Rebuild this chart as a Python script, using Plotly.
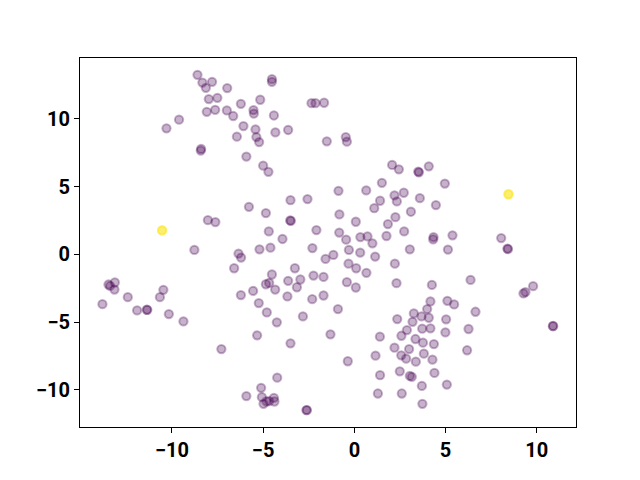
import plotly.graph_objects as go

# point coordinates
xs = [
    -8.60, -8.33, -7.80, -8.14, -6.97, -7.98, -7.51, -6.22, -8.09, -7.63,
    -6.99, -6.64, -9.61, -10.30, -6.08, -6.44, -8.40, -8.42, -5.92, -5.78,
    -8.03, -7.62,
    -4.52, -4.52, -5.16, -5.53, -5.51, -4.41, -2.35, -2.13, -1.66, -5.42,
    -5.37, -5.22, -4.33, -3.63, -1.51, -0.47, -0.41, -5.00, -4.71, 2.07,
    2.44, 3.54, 3.50, 4.08, 1.51, -0.87, 0.65, 2.20, 2.33, 2.71,
    1.41, 1.09, 3.10, -3.50, -2.57, -4.85, -0.82, -3.52, -3.48, 0.08,
    2.25, 1.84, 2.73, -4.69, -2.08, -0.83, -3.94, -0.45, 0.33, 0.72,
    1.76, 0.99,
    4.96, 3.59, 4.47, 4.34, 4.32, 5.38, 8.05, 8.39, 8.42,
    -8.77, -6.35, -6.21, -6.59, -6.22, -13.48, -13.39, -13.13, -13.15, -13.81,
    -12.42, -11.91, -11.38, -11.35, -10.47, -10.66, -10.17, -9.37, -7.29, -5.92,
    -5.20, -4.60, -2.30, -0.30, 0.32, 1.14, 3.04, -1.58, -1.15, -3.26,
    -4.52, -4.85, -4.67, -4.34, -3.63, -2.96, -3.15, -2.24, -1.69, -0.32,
    0.10, 0.66, -0.41, 0.08, 2.22, 2.31, -5.55, -5.24, -3.67, -2.31,
    -1.69, -4.80, -4.25, -2.82, -0.90, -5.33, -3.50, -1.31, -0.36, -4.23,
    -5.11, -5.07, -4.98, -4.82, -4.67, -4.41, -4.38, -2.63, -2.60, 1.40,
    1.16, 1.41, 1.29, 2.60, 2.49, 3.04, 3.15, 2.20, 2.57, 2.84,
    3.00, 2.58, 2.88, 2.35,
    5.13, 4.25, 6.37, 9.27, 9.38, 9.80, 10.90, 10.88, 4.17, 3.99,
    5.10, 5.47, 6.64, 3.26, 3.68, 4.08, 3.19, 5.03, 3.72, 4.17,
    4.99, 6.26, 3.35, 3.76, 4.36, 6.18, 3.81, 3.37, 4.28, 4.39,
    3.70, 5.07, 3.73,
    -10.54, -10.54, -10.54, 8.45, 8.45, 8.45,
]
ys = [
    13.24, 12.67, 12.72, 12.28, 12.26, 11.45, 11.54, 11.10, 10.51, 10.66,
    10.61, 10.20, 9.93, 9.29, 9.46, 8.68, 7.77, 7.65, 7.21, 3.50,
    2.52, 2.38,
    12.92, 12.72, 11.40, 10.64, 10.38, 10.24, 11.15, 11.15, 11.18, 9.21,
    8.65, 8.28, 8.99, 9.17, 8.33, 8.65, 8.31, 6.54, 6.08, 6.59,
    6.27, 6.05, 6.10, 6.49, 5.27, 4.68, 4.71, 4.34, 3.90, 4.54,
    3.95, 3.40, 3.14, 3.99, 4.07, 3.04, 2.94, 2.50, 2.46, 2.40,
    2.74, 2.23, 1.69, 1.69, 1.79, 1.60, 1.13, 1.08, 1.27, 1.32,
    1.35, 0.81,
    5.22, 4.14, 3.63, 1.27, 1.10, 1.40, 1.20, 0.42, 0.38,
    0.32, 0.05, -0.24, -1.03, -3.01, -2.23, -2.33, -2.08, -2.60, -3.68,
    -3.16, -4.14, -4.09, -4.10, -2.62, -3.16, -4.41, -4.95, -6.99, -10.46,
    0.37, 0.49, 0.46, 0.32, 0.12, -0.17, 0.37, -0.34, -0.05, -1.03,
    -1.49, -2.21, -2.11, -2.60, -1.96, -1.86, -2.43, -1.57, -1.67, -0.69,
    -1.03, -1.37, -2.06, -2.45, -0.69, -2.13, -2.70, -3.60, -3.11, -3.31,
    -3.04, -4.29, -5.02, -4.58, -4.04, -5.98, -6.57, -5.90, -7.89, -9.10,
    -9.85, -10.54, -11.03, -10.86, -10.83, -10.59, -10.86, -11.49, -11.50, -6.08,
    -7.48, -8.92, -10.27, -10.27, -8.63, -8.97, -9.04, -6.89, -7.45, -7.70,
    -6.99, -6.01, -5.59, -4.78,
    0.35, -2.26, -1.89, -2.89, -2.79, -2.35, -5.29, -5.30, -3.48, -4.04,
    -3.43, -3.70, -4.24, -4.36, -4.58, -4.68, -4.98, -4.80, -5.49, -5.46,
    -5.76, -5.51, -6.25, -6.52, -6.62, -7.08, -7.33, -7.92, -7.77, -8.75,
    -9.71, -9.61, -11.03,
    1.76, 1.76, 1.76, 4.43, 4.43, 4.43,
]
labels = [0] * (len(xs) - 6) + [1] * 6

x_ticks = [-10, -5, 0, 5, 10]
y_ticks = [-10, -5, 0, 5, 10]

palette = {0: "rgba(68,1,84,0.3)", 1: "rgba(253,231,37,0.3)"}
colors = [palette[v] for v in labels]

fig = go.Figure(
    go.Scatter(
        x=xs,
        y=ys,
        mode="markers",
        marker=dict(size=8.3, color=colors, line=dict(color=colors, width=2)),
        hoverinfo="skip",
    )
)

tickfont = dict(family="Roboto", size=20, color="black", weight="bold")
axis_common = dict(
    showgrid=False,
    zeroline=False,
    showline=True,
    linecolor="black",
    linewidth=1,
    mirror=True,
    ticks="outside",
    ticklen=5,
    tickwidth=1,
    tickcolor="black",
    tickfont=tickfont,
)

# page body has an 8px margin, so the figure is shrunk and shifted accordingly
fig.update_layout(
    width=632,
    height=472,
    margin=dict(l=72, r=64, t=50, b=53),
    paper_bgcolor="white",
    plot_bgcolor="white",
    showlegend=False,
    xaxis=dict(range=[-15.04, 12.15], tickvals=x_ticks,
               ticktext=[str(t).replace("-", "\u2212") for t in x_ticks], **axis_common),
    yaxis=dict(range=[-12.74, 14.48], tickvals=y_ticks,
               ticktext=[str(t).replace("-", "\u2212") for t in y_ticks], **axis_common),
)

fig.write_html("out.html")
